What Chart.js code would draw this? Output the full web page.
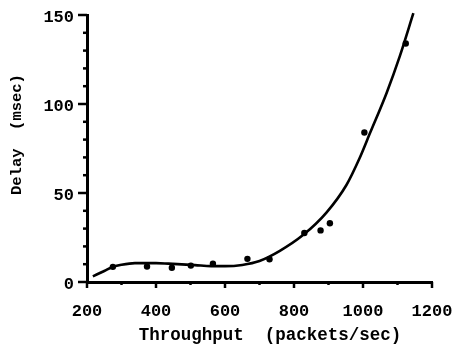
<!DOCTYPE html>
<html>
<head>
<meta charset="utf-8">
<script src="https://cdn.jsdelivr.net/npm/chart.js@4/dist/chart.umd.min.js"></script>
<style>
  html, body { margin: 0; padding: 0; background: #fff; }
  #c { display: block; }
</style>
</head>
<body>
<canvas id="c" width="455" height="345"></canvas>
<script>
// Measured data points (throughput packets/sec, delay msec)
const pointX = [275, 374, 446, 501, 565, 665, 729, 830, 877, 904, 1004, 1124];
const pointY = [8.5, 8.7, 8.0, 9.2, 10.3, 13.0, 12.8, 27.5, 29.0, 33.0, 84, 134];

// Fitted curve
const curveX = [217, 250, 276, 300, 339, 400, 436, 513, 560, 600, 650, 700, 759, 827, 894, 952, 990, 1020, 1069, 1107, 1146];
const curveY = [3.2, 6.2, 8.6, 9.7, 10.6, 10.6, 10.3, 9.5, 8.9, 8.9, 9.6, 11.8, 17.5, 26.5, 39, 54.5, 69.5, 83.5, 106.5, 127, 151];

// Axis ticks
const xMajorTicks = [200, 400, 600, 800, 1000, 1200];
const xMinorTicks = [300, 500, 700, 900, 1100];
const yMajorTicks = [0, 50, 100, 150];
const yMinorTicks = [10, 20, 30, 40, 60, 70, 80, 90, 110, 120, 130, 140];

const FONT = "'Liberation Mono', 'DejaVu Sans Mono', monospace";

const tickPlugin = {
  id: 'axisTicks',
  afterDraw(chart) {
    const ctx = chart.ctx;
    const xs = chart.scales.x, ys = chart.scales.y;
    const axisY = ys.getPixelForValue(0);
    const axisX = xs.getPixelForValue(200);
    ctx.save();
    ctx.strokeStyle = '#000';
    ctx.lineCap = 'butt';
    ctx.lineWidth = 2.5;
    const drawX = (vals, len) => vals.forEach(v => {
      const p = xs.getPixelForValue(v);
      ctx.beginPath(); ctx.moveTo(p, axisY); ctx.lineTo(p, axisY + len); ctx.stroke();
    });
    const drawY = (vals, len) => vals.forEach(v => {
      const p = ys.getPixelForValue(v);
      ctx.beginPath(); ctx.moveTo(axisX, p); ctx.lineTo(axisX - len, p); ctx.stroke();
    });
    drawX(xMajorTicks, 6);
    drawX(xMinorTicks, 3);
    drawY(yMajorTicks, 9);
    drawY(yMinorTicks, 4);
    ctx.restore();
  }
};

new Chart(document.getElementById('c'), {
  type: 'scatter',
  data: {
    datasets: [
      {
        label: 'fit',
        data: curveX.map((x, i) => ({ x, y: curveY[i] })),
        showLine: true,
        borderColor: '#000',
        borderWidth: 2.6,
        pointRadius: 0,
        tension: 0.4,
        cubicInterpolationMode: 'monotone',
        fill: false,
        clip: false
      },
      {
        label: 'measured',
        data: pointX.map((x, i) => ({ x, y: pointY[i] })),
        showLine: false,
        backgroundColor: '#000',
        borderColor: '#000',
        pointRadius: 3.2,
        pointBorderWidth: 0
      }
    ]
  },
  options: {
    responsive: false,
    animation: false,
    devicePixelRatio: 1,
    layout: { padding: { left: 0, top: 15, right: 23, bottom: 0 } },
    plugins: { legend: { display: false }, tooltip: { enabled: false } },
    scales: {
      x: {
        type: 'linear',
        min: 200, max: 1200,
        afterFit(scale) {
          scale.height = 63;
          scale.paddingLeft = 0; scale.paddingRight = 0;
        },
        grid: { display: false, drawTicks: false },
        border: { display: true, color: '#000', width: 3 },
        ticks: {
          stepSize: 200,
          padding: 20,
          color: '#000',
          font: { family: FONT, size: 17, weight: 'bold' },
          maxRotation: 0,
          callback: (v) => String(v)
        },
        title: {
          display: true,
          text: '  Throughput  (packets/sec)',
          color: '#000',
          font: { family: FONT, size: 17.5, weight: 'bold' },
          padding: { top: 0, bottom: -1 }
        }
      },
      y: {
        type: 'linear',
        min: 0, max: 150,
        afterFit(scale) {
          scale.width = 87;
          scale.paddingTop = 0; scale.paddingBottom = 0;
        },
        grid: { display: false, drawTicks: false },
        border: { display: true, color: '#000', width: 3 },
        ticks: {
          stepSize: 50,
          padding: 13,
          labelOffset: 3,
          color: '#000',
          font: { family: FONT, size: 17, weight: 'bold' },
          callback: (v) => String(v)
        },
        title: {
          display: true,
          text: '   Delay  (msec)',
          color: '#000',
          font: { family: FONT, size: 15.5, weight: 'bold' },
          padding: { top: 8, bottom: 0 }
        }
      }
    }
  },
  plugins: [tickPlugin]
});
</script>
</body>
</html>
